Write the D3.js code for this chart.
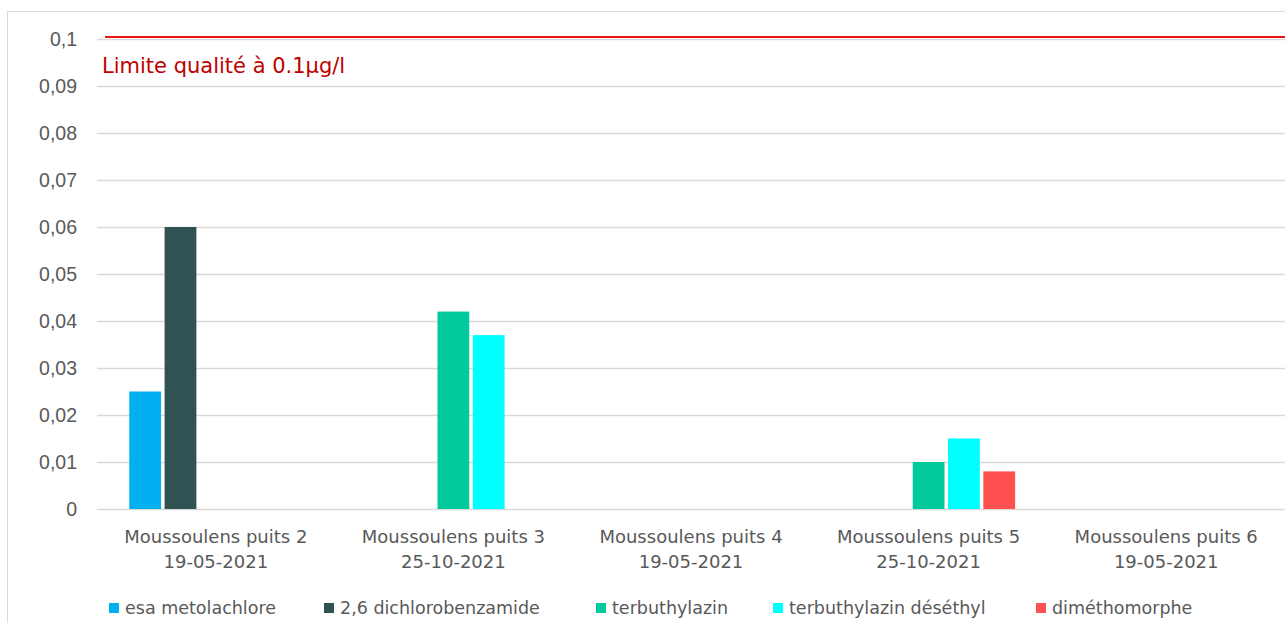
<!DOCTYPE html>
<html lang="fr">
  <head>
    <meta charset="utf-8" />
    <title>Moussoulens puits - pesticides</title>
    <script src="https://d3js.org/d3.v7.min.js"></script>
    <style>
      body {
        margin: 0;
        background: #fff;
        font-family: "DejaVu Sans", sans-serif;
      }
      .tick text {
        fill: #595959;
      }
    </style>
  </head>
  <body>
    <svg id="chart" width="1285" height="623"></svg>
    <script>
      // données
      const stations = [
        ["Moussoulens puits 2", "19-05-2021"],
        ["Moussoulens puits 3", "25-10-2021"],
        ["Moussoulens puits 4", "19-05-2021"],
        ["Moussoulens puits 5", "25-10-2021"],
        ["Moussoulens puits 6", "19-05-2021"],
      ];
      const molecules = [
        "esa metolachlore",
        "2,6 dichlorobenzamide",
        "terbuthylazin",
        "terbuthylazin déséthyl",
        "diméthomorphe",
      ];
      const colors = ["#00b0f0", "#305252", "#00c99b", "#00ffff", "#ff5050"];
      // une ligne par station, une valeur par molécule (null = non détecté)
      const values = [
        [0.025, 0.06, null, null, null],
        [null, null, 0.042, 0.037, null],
        [null, null, null, null, null],
        [null, null, 0.01, 0.015, 0.008],
        [null, null, null, null, null],
      ];
      const yTicks = [0, 0.01, 0.02, 0.03, 0.04, 0.05, 0.06, 0.07, 0.08, 0.09, 0.1];
      const limite = 0.1;

      const svg = d3.select("#chart");
      const margin = { left: 97, right: 0, top: 39, bottom: 114 };
      const width = 1285, height = 623;

      // cadre gris du graphique
      svg.append("rect")
        .attr("x", 7.5).attr("y", 11.5)
        .attr("width", 1290).attr("height", 630)
        .attr("fill", "#fff").attr("stroke", "#d9d9d9");

      const x0 = d3.scaleBand()
        .domain(d3.range(stations.length))
        .range([margin.left, width - margin.right])
        .paddingInner(0.242)
        .paddingOuter(0.121);
      const x1 = d3.scaleBand()
        .domain(d3.range(molecules.length))
        .range([0, x0.bandwidth()])
        .padding(0.1);
      const y = d3.scaleLinear()
        .domain([0, 0.1])
        .range([height - margin.bottom, margin.top]);

      // grille + axe Y
      const yAxis = d3.axisLeft(y)
        .tickValues(yTicks)
        .tickSize(-(width - margin.left - margin.right))
        .tickPadding(20)
        .tickFormat(d => d3.format(".2~f")(d).replace(".", ","));
      const gy = svg.append("g")
        .attr("transform", `translate(${margin.left},0)`)
        .call(yAxis);
      gy.select(".domain").remove();
      gy.selectAll(".tick line").attr("stroke", "#d9d9d9").attr("stroke-width", 1.3);
      gy.selectAll(".tick text").attr("font-size", 19.5);

      // barres
      const groups = svg.append("g").selectAll("g")
        .data(values)
        .join("g")
        .attr("transform", (d, i) => `translate(${x0(i)},0)`);
      groups.selectAll("rect")
        .data(d => d.map((v, j) => ({ v, j })).filter(e => e.v != null))
        .join("rect")
        .attr("x", e => x1(e.j))
        .attr("width", x1.bandwidth())
        .attr("y", e => y(e.v))
        .attr("height", e => y(0) - y(e.v))
        .attr("fill", e => colors[e.j]);

      // libellés de l'axe X (deux lignes)
      const xl = svg.append("g").selectAll("text")
        .data(stations)
        .join("text")
        .attr("text-anchor", "middle")
        .attr("font-size", 18)
        .attr("fill", "#595959");
      xl.append("tspan")
        .attr("x", (d, i) => x0(i) + x0.bandwidth() / 2)
        .attr("y", 543)
        .text(d => d[0]);
      xl.append("tspan")
        .attr("x", (d, i) => x0(i) + x0.bandwidth() / 2)
        .attr("y", 568)
        .text(d => d[1]);

      // limite qualité
      svg.append("line")
        .attr("x1", 105).attr("x2", width)
        .attr("y1", y(limite) - 2).attr("y2", y(limite) - 2)
        .attr("stroke", "#e8171a").attr("stroke-width", 2);
      svg.append("text")
        .attr("x", 102).attr("y", 73)
        .attr("font-size", 21)
        .attr("fill", "#c00000")
        .text("Limite qualité à 0.1µg/l");

      // légende
      const legendX = [109, 324, 596, 773, 1036];
      const leg = svg.append("g").selectAll("g")
        .data(molecules)
        .join("g")
        .attr("transform", (d, i) => `translate(${legendX[i]},603)`);
      leg.append("rect")
        .attr("width", 10).attr("height", 10)
        .attr("fill", (d, i) => colors[i]);
      leg.append("text")
        .attr("x", 16).attr("y", 11)
        .attr("font-size", 17.5)
        .attr("fill", "#595959")
        .text(d => d);
    </script>
  </body>
</html>
